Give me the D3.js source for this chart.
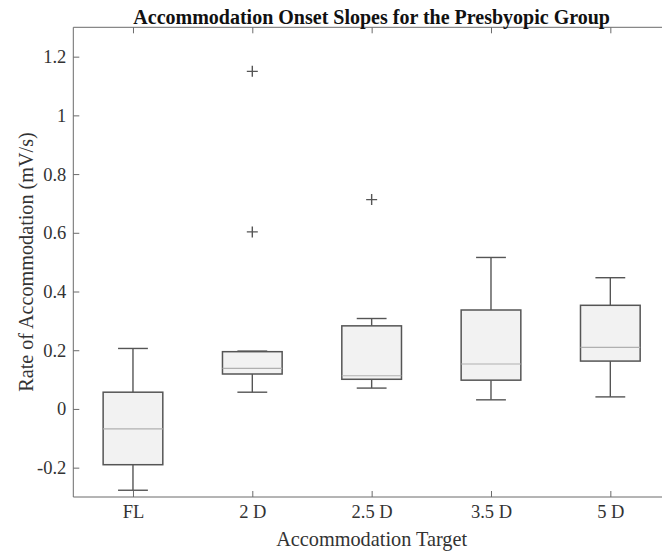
<!DOCTYPE html>
<html><head><meta charset="utf-8">
<script src="https://cdn.jsdelivr.net/npm/d3@7"></script>
<style>body{margin:0;background:#fff;} svg{display:block;}</style>
</head><body>
<svg id="chart" width="662" height="553"></svg>
<script>
const categories = ["FL", "2 D", "2.5 D", "3.5 D", "5 D"];
const whiskerLow  = [-0.277, 0.057, 0.071, 0.031, 0.041];
const q1          = [-0.190, 0.119, 0.101, 0.098, 0.163];
const medians     = [-0.068, 0.138, 0.113, 0.153, 0.210];
const q3          = [0.057, 0.195, 0.283, 0.337, 0.353];
const whiskerHigh = [0.206, 0.197, 0.308, 0.516, 0.447];
const outlierCat  = ["2 D", "2 D", "2.5 D"];
const outlierVal  = [1.150, 0.603, 0.713];
const yTicks = [-0.2, 0, 0.2, 0.4, 0.6, 0.8, 1, 1.2];

(function () {
const svg = d3.select("#chart");
const mLeft = 73.3, mRight = 670, mTop = 27.3, mBottom = 497;
const font = "'Liberation Serif', 'Times New Roman', serif";

const x = d3.scaleLinear().domain([0.5, 5.5]).range([mLeft, mRight]);
const y = d3.scaleLinear().domain([-0.3, 1.3]).range([mBottom, mTop]);
const xi = c => x(categories.indexOf(c) + 1);

const axisColor = "#6b6b6b";
svg.append("line").attr("x1", mLeft).attr("x2", mRight).attr("y1", mTop).attr("y2", mTop).attr("stroke", axisColor);
svg.append("line").attr("x1", mLeft).attr("x2", mRight).attr("y1", mBottom).attr("y2", mBottom).attr("stroke", axisColor);
svg.append("line").attr("x1", mLeft).attr("x2", mLeft).attr("y1", mTop).attr("y2", mBottom).attr("stroke", axisColor);

const yAxis = d3.axisLeft(y).tickValues(yTicks).tickSize(-6).tickPadding(7).tickFormat(d => d3.format("")(d).replace("\u2212", "-"));
const gy = svg.append("g").attr("transform", `translate(${mLeft},0)`).call(yAxis);
gy.select(".domain").remove();
gy.selectAll(".tick line").attr("stroke", axisColor);
gy.selectAll(".tick text").attr("font-family", font).attr("font-size", 18.5).attr("fill", "#333");

const xAxis = d3.axisBottom(x).tickValues(categories.map((c, i) => i + 1)).tickSize(-6).tickPadding(8).tickFormat(d => categories[d - 1]);
const gx = svg.append("g").attr("transform", `translate(0,${mBottom})`).call(xAxis);
gx.select(".domain").remove();
gx.selectAll(".tick line").attr("stroke", axisColor);
gx.selectAll(".tick text").attr("font-family", font).attr("font-size", 18.5).attr("fill", "#333");

const gt = svg.append("g").attr("transform", `translate(0,${mTop})`).call(d3.axisTop(x).tickValues(categories.map((c, i) => i + 1)).tickSize(-6).tickFormat(""));
gt.select(".domain").remove();
gt.selectAll(".tick line").attr("stroke", axisColor);

const boxW = x(1.25) - x(1);
const capW = x(1.125) - x(1);
const stroke = "#555";
categories.forEach((c, i) => {
  const cx = xi(c);
  const g = svg.append("g");
  g.append("line").attr("x1", cx).attr("x2", cx).attr("y1", y(q3[i])).attr("y2", y(whiskerHigh[i])).attr("stroke", stroke).attr("stroke-width", 1.4);
  g.append("line").attr("x1", cx).attr("x2", cx).attr("y1", y(q1[i])).attr("y2", y(whiskerLow[i])).attr("stroke", stroke).attr("stroke-width", 1.4);
  g.append("line").attr("x1", cx - capW).attr("x2", cx + capW).attr("y1", y(whiskerHigh[i])).attr("y2", y(whiskerHigh[i])).attr("stroke", stroke).attr("stroke-width", 1.4);
  g.append("line").attr("x1", cx - capW).attr("x2", cx + capW).attr("y1", y(whiskerLow[i])).attr("y2", y(whiskerLow[i])).attr("stroke", stroke).attr("stroke-width", 1.4);
  g.append("rect").attr("x", cx - boxW).attr("width", 2 * boxW).attr("y", y(q3[i])).attr("height", y(q1[i]) - y(q3[i]))
    .attr("fill", "#f2f2f2").attr("stroke", stroke).attr("stroke-width", 1.5);
  g.append("line").attr("x1", cx - boxW).attr("x2", cx + boxW).attr("y1", y(medians[i])).attr("y2", y(medians[i])).attr("stroke", "#b0b0b0").attr("stroke-width", 1.2);
});

outlierCat.forEach((c, i) => {
  const cx = xi(c), cy = y(outlierVal[i]);
  svg.append("path").attr("d", `M${cx - 5.5},${cy}H${cx + 5.5}M${cx},${cy - 5.5}V${cy + 5.5}`).attr("stroke", "#555").attr("stroke-width", 1.4);
});

svg.append("text").attr("x", x(3)).attr("y", 23.5).attr("text-anchor", "middle").attr("font-family", font)
  .attr("font-weight", "bold").attr("font-size", 20).attr("fill", "#111").text("Accommodation Onset Slopes for the Presbyopic Group");
svg.append("text").attr("x", x(3)).attr("y", 546).attr("text-anchor", "middle").attr("font-family", font)
  .attr("font-size", 20.3).attr("fill", "#333").text("Accommodation Target");
svg.append("text").attr("transform", `translate(33,262) rotate(-90)`).attr("text-anchor", "middle").attr("font-family", font)
  .attr("font-size", 20.2).attr("fill", "#333").text("Rate of Accommodation (mV/s)");
})();
</script>
</body></html>
